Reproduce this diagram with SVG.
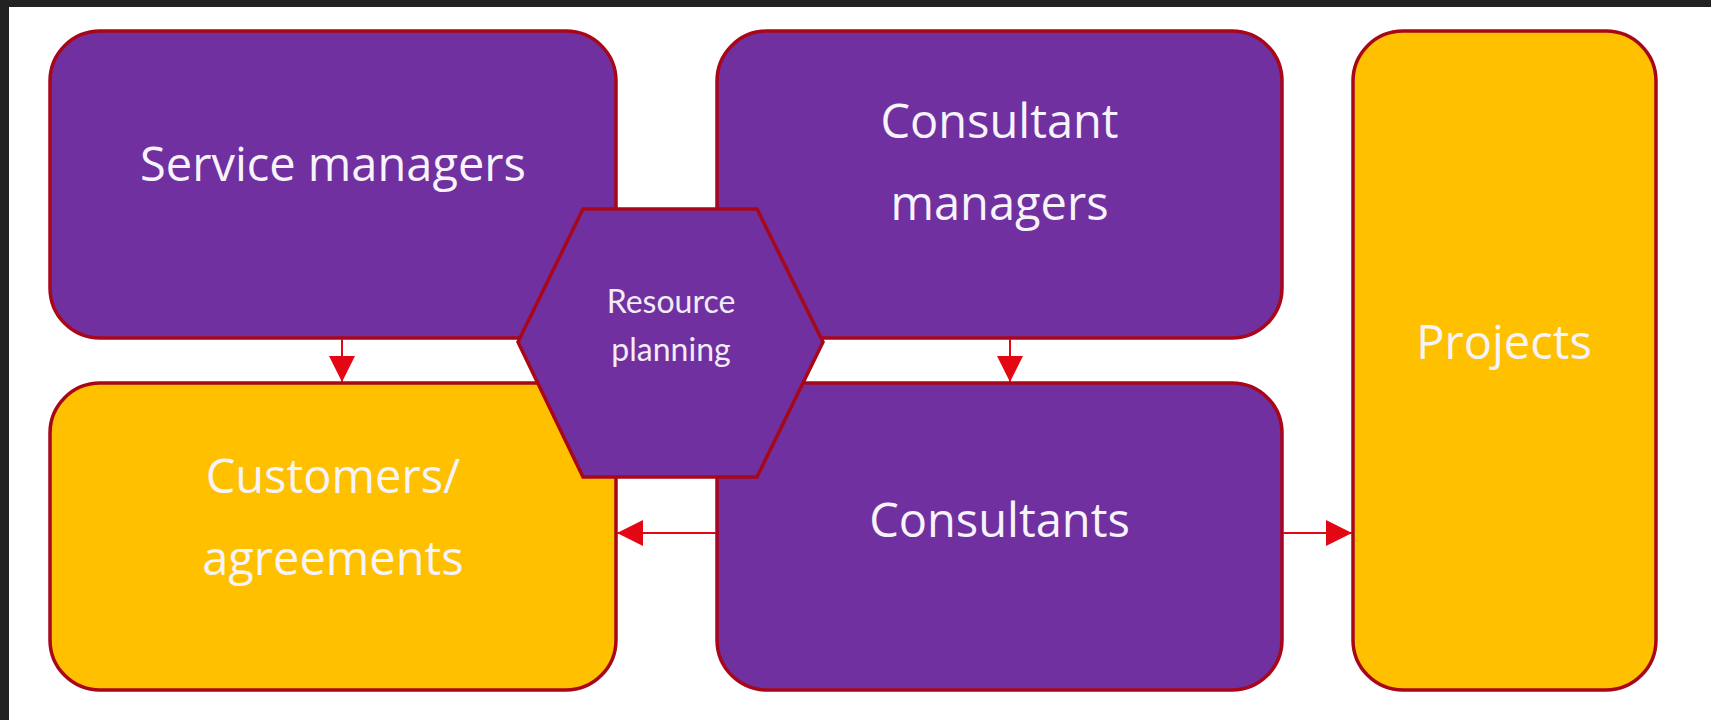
<svg xmlns="http://www.w3.org/2000/svg" width="1711" height="720" viewBox="0 0 1711 720">
  <style>
    .box{stroke:#A8071A;stroke-width:3.5}
    .purple{fill:#7030A0}
    .yellow{fill:#FFC000}
    .lbl{font-family:"Open Sans","Noto Sans",sans-serif;font-size:47px;fill:#F7F3FA;text-anchor:middle}
    .hlbl{font-family:Lato,"Open Sans",sans-serif;font-size:32px;fill:#F2ECF7;text-anchor:middle}
    .conn{stroke:#E30613;stroke-width:2;fill:none}
  </style>
  <defs>
    <marker id="arr" viewBox="0 0 26 26" refX="26" refY="13" markerWidth="26" markerHeight="26" markerUnits="userSpaceOnUse" orient="auto">
      <path d="M0,0 L26,13 L0,26 Z" fill="#E30613"/>
    </marker>
  </defs>
  <rect x="0" y="0" width="1711" height="720" fill="#FFFFFF"/>
  <rect x="0" y="0" width="1711" height="7" fill="#222222"/>
  <rect x="0" y="0" width="9" height="720" fill="#222222"/>

  <g id="service-managers">
    <rect class="box purple" x="50" y="31" width="566" height="307" rx="50" ry="50"/>
    <text class="lbl" x="333" y="181">Service managers</text>
  </g>
  <g id="customers-agreements">
    <rect class="box yellow" x="50" y="383" width="566" height="307" rx="50" ry="50"/>
    <text class="lbl" x="333" y="493">Customers/</text>
    <text class="lbl" x="333" y="575">agreements</text>
  </g>
  <g id="consultant-managers">
    <rect class="box purple" x="717" y="31" width="565" height="307" rx="50" ry="50"/>
    <text class="lbl" x="999.5" y="138">Consultant</text>
    <text class="lbl" x="999.5" y="220">managers</text>
  </g>
  <g id="consultants">
    <rect class="box purple" x="717" y="383" width="565" height="307" rx="50" ry="50"/>
    <text class="lbl" x="999.5" y="537">Consultants</text>
  </g>
  <g id="projects">
    <rect class="box yellow" x="1353" y="31" width="303" height="659" rx="50" ry="50"/>
    <text class="lbl" x="1504" y="359">Projects</text>
  </g>

  <g id="connectors">
    <line class="conn" x1="342" y1="339" x2="342" y2="382" marker-end="url(#arr)"/>
    <line class="conn" x1="1010" y1="339" x2="1010" y2="382" marker-end="url(#arr)"/>
    <line class="conn" x1="716" y1="533" x2="617" y2="533" marker-end="url(#arr)"/>
    <line class="conn" x1="1283" y1="533" x2="1352" y2="533" marker-end="url(#arr)"/>
  </g>

  <g id="resource-planning">
    <polygon class="box purple" points="583,209 757,209 823,342 757,477 583,477 518,342"/>
    <text class="hlbl" x="671" y="313">Resource</text>
    <text class="hlbl" x="671" y="361">planning</text>
  </g>
</svg>
